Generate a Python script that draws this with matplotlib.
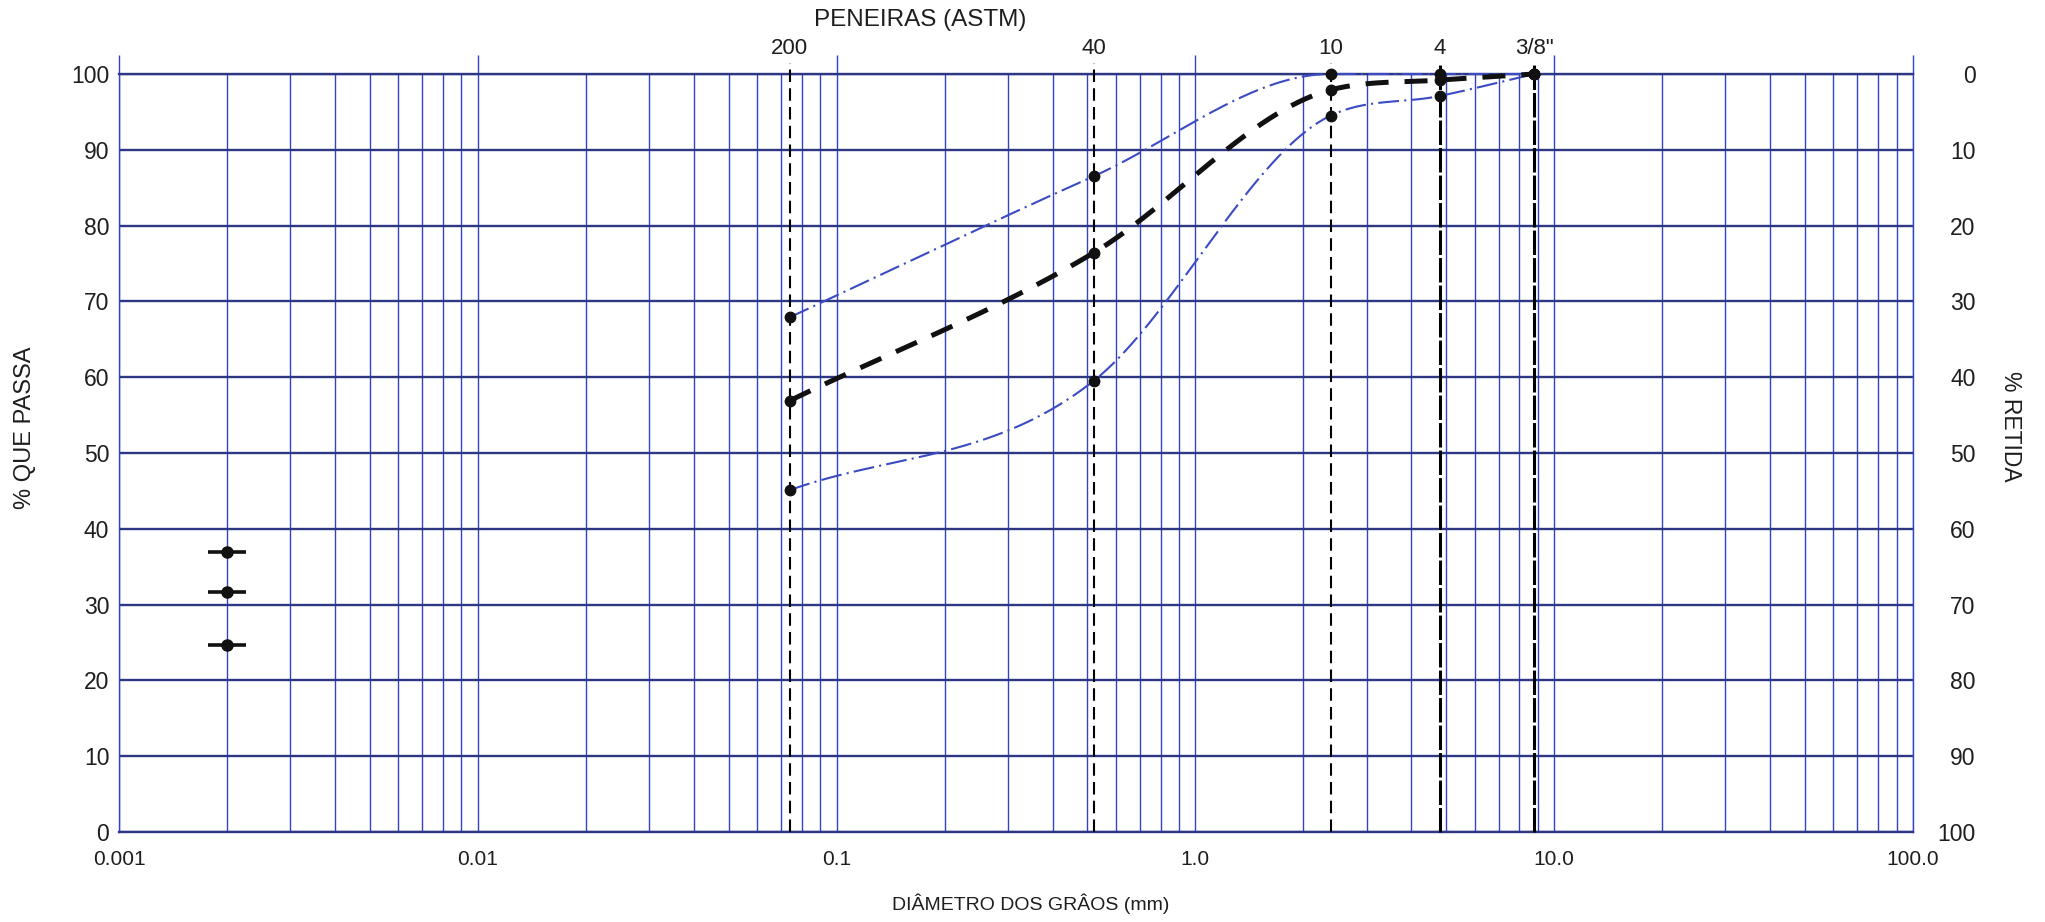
import numpy as np
import matplotlib
matplotlib.use("Agg")
import matplotlib.pyplot as plt
from matplotlib.ticker import FixedLocator, LogLocator, NullFormatter, NullLocator

plt.rcParams["font.family"] = ["Liberation Sans", "DejaVu Sans"]

# ASTM sieves as placed on the chart (opening in mm)
sieve_names = ["200", "40", "10", "4", '3/8"']
sieve_mm = [0.074, 0.52, 2.38, 4.8, 8.8]

# % passing: upper limit, sample, lower limit
upper_pass = [67.9, 86.5, 100.0, 100.0, 100.0]
sample_pass = [56.9, 76.4, 97.9, 99.2, 100.0]
lower_pass = [45.1, 59.5, 94.5, 97.1, 100.0]

# sedimentation readings
fines_mm = [0.002, 0.002, 0.002]
fines_pass = [36.9, 31.6, 24.7]

x_ticks = [0.001, 0.01, 0.1, 1.0, 10.0, 100.0]
x_ticklabels = ["0.001", "0.01", "0.1", "1.0", "10.0", "100.0"]
y_ticks = list(range(0, 101, 10))

VCOL = "#3343c6"   # vertical grid
HCOL = "#2e3784"   # horizontal grid
CURVE = "#3a4bc4"
TXT = "#1e1e1e"


def monotone_cubic(xk, yk, xs):
    """Cubic Hermite through (xk, yk) with Fritsch-Carlson limited slopes."""
    xk = np.asarray(xk, float)
    yk = np.asarray(yk, float)
    h = np.diff(xk)
    d = np.diff(yk) / h
    n = len(xk)
    m = np.empty(n)
    m[0], m[-1] = d[0], d[-1]
    for i in range(1, n - 1):
        m[i] = (h[i] * d[i - 1] + h[i - 1] * d[i]) / (h[i - 1] + h[i])
    for k in range(n - 1):
        if d[k] == 0:
            m[k] = m[k + 1] = 0.0
            continue
        a, b = m[k] / d[k], m[k + 1] / d[k]
        if a < 0:
            m[k] = 0.0
        if b < 0:
            m[k + 1] = 0.0
        a, b = m[k] / d[k], m[k + 1] / d[k]
        s = a * a + b * b
        if s > 9:
            tau = 3 / np.sqrt(s)
            m[k] = tau * a * d[k]
            m[k + 1] = tau * b * d[k]
    idx = np.clip(np.searchsorted(xk, xs) - 1, 0, n - 2)
    t = (xs - xk[idx]) / h[idx]
    h00 = 2 * t**3 - 3 * t**2 + 1
    h10 = t**3 - 2 * t**2 + t
    h01 = -2 * t**3 + 3 * t**2
    h11 = t**3 - t**2
    return (h00 * yk[idx] + h10 * h[idx] * m[idx]
            + h01 * yk[idx + 1] + h11 * h[idx] * m[idx + 1])


def smooth_curve(xs, ys, n=400):
    lx = np.log10(xs)
    grid = np.linspace(lx[0], lx[-1], n)
    return 10**grid, monotone_cubic(lx, ys, grid)


fig = plt.figure(figsize=(20.45, 9.22), dpi=100)
ax = fig.add_axes([119 / 2045, 90 / 922, 1794 / 2045, 758 / 922])

ax.set_xscale("log")
ax.set_xlim(0.001, 100)
ax.set_ylim(0, 100)
ax.xaxis.set_major_locator(FixedLocator(x_ticks))
ax.set_xticklabels(x_ticklabels)
ax.xaxis.set_minor_locator(LogLocator(base=10, subs=np.arange(2, 10)))
ax.xaxis.set_minor_formatter(NullFormatter())
ax.set_yticks(y_ticks)
ax.set_axisbelow(True)
ax.grid(which="both", axis="x", color=VCOL, lw=1.0)
ax.grid(which="major", axis="y", color=HCOL, lw=1.7)
ax.tick_params(which="both", length=0)
ax.tick_params(axis="x", pad=13, labelsize=15, labelcolor=TXT)
ax.tick_params(axis="y", pad=7, labelsize=16.5, labelcolor=TXT)
for side in ("left", "right"):
    ax.spines[side].set_color(VCOL)
    ax.spines[side].set_linewidth(1.0)
for side in ("top", "bottom"):
    ax.spines[side].set_color(HCOL)
    ax.spines[side].set_linewidth(1.7)

# decade lines run a little past the top edge
ax.vlines(x_ticks, 100, 102.5, colors=VCOL, lw=1.0, clip_on=False)

# sieve reference lines
for i, x in enumerate(sieve_mm):
    if i < 3:
        ax.plot([x, x], [0, 101.5], color="black", lw=1.5, dashes=(6, 3),
                clip_on=False, zorder=3)
    else:
        ax.plot([x, x], [0, 101.5], color="black", lw=2.2, dashes=(8, 1),
                clip_on=False, zorder=3)

# grading envelope and sample curve
for ys, color, lw, dashes in ((upper_pass, CURVE, 1.5, (10, 2.5, 1, 2.5)),
                              (lower_pass, CURVE, 1.5, (10, 2.5, 1, 2.5)),
                              (sample_pass, "#111111", 3.6, (4.6, 3.2))):
    cx, cy = smooth_curve(sieve_mm, ys)
    ax.plot(cx, cy, color=color, lw=lw, dashes=dashes, zorder=4,
            clip_on=False)
    ax.plot(sieve_mm, ys, "o", color="#111111", ms=7.5, zorder=5,
            clip_on=False)

# hydrometer points
ax.plot(fines_mm, fines_pass, "_", color="#111111", ms=27, mew=2.6, zorder=5)
ax.plot(fines_mm, fines_pass, "o", color="#111111", ms=8, zorder=6)

# % retained on the right
ax2 = ax.twinx()
ax2.set_ylim(100, 0)
ax2.set_yticks(y_ticks)
for s in ax2.spines.values():
    s.set_visible(False)
ax2.tick_params(length=0, pad=45, labelsize=16.5, labelcolor=TXT)
for lab in ax2.get_yticklabels():
    lab.set_horizontalalignment("right")

# sieve names along the top
sec = ax.secondary_xaxis("top")
sec.set_xticks(sieve_mm)
sec.set_xticklabels(sieve_names)
sec.xaxis.set_minor_locator(NullLocator())
sec.tick_params(which="both", length=0, pad=11, labelsize=16, labelcolor=TXT)
sec.spines["top"].set_visible(False)

fig.text(920 / 2045, 1 - 20 / 922, "PENEIRAS (ASTM)", ha="center",
         va="center", fontsize=17.5, color=TXT)
fig.text(1031 / 2045, 1 - 904 / 922, "DIÂMETRO DOS GRÂOS (mm)", ha="center",
         va="center", fontsize=14, color=TXT)
fig.text(25 / 2045, 1 - 428 / 922, "% QUE PASSA", rotation=90, ha="center",
         va="center", fontsize=17, color=TXT)
fig.text(2010 / 2045, 1 - 426 / 922, "% RETIDA", rotation=270, ha="center",
         va="center", fontsize=16.5, color=TXT)

fig.savefig("out.png", dpi=100)
